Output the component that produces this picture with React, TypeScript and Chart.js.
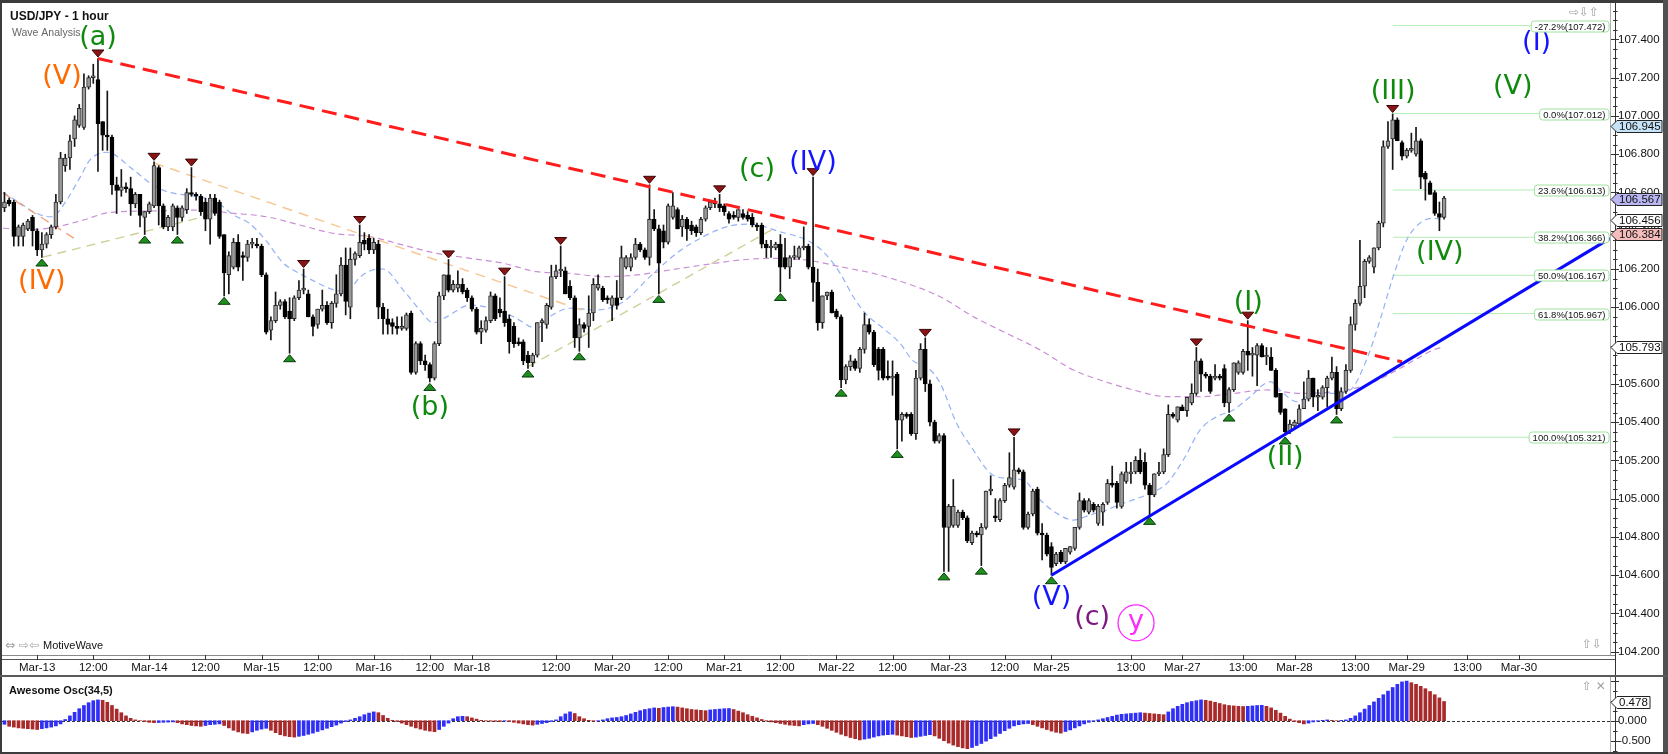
import React, { useEffect, useRef } from 'react';
import { Chart, registerables } from 'chart.js';

Chart.register(...registerables);

const FONT = "'Liberation Sans', Arial, Helvetica, sans-serif";
const SYM = "'DejaVu Sans', sans-serif";

// ---------------- data ----------------
const firstBar = -7; // index of the first candle (Mar-13 00:00 = 0)
// [open, high, low, close]
const ohlc: number[][] = [
  [106.52,106.60,106.50,106.55],[106.56,106.57,106.53,106.54],[106.55,106.56,106.32,106.37],[106.37,106.43,106.32,106.42],[106.37,106.44,106.32,106.43],[106.41,106.46,106.40,106.45],[106.47,106.48,106.32,106.40],
  [106.40,106.41,106.27,106.30],[106.30,106.39,106.26,106.33],[106.33,106.39,106.31,106.38],[106.38,106.43,106.36,106.42],[106.42,106.59,106.41,106.55],[106.55,106.81,106.54,106.78],[106.74,106.80,106.71,106.78],[106.78,106.90,106.72,106.87],[106.88,107.00,106.84,106.98],[106.95,107.06,106.94,107.04],
  [106.94,107.22,106.93,107.15],[107.15,107.21,107.14,107.20],[107.20,107.27,107.17,107.21],[107.19,107.30,106.71,106.96],[106.97,106.97,106.82,106.90],[106.90,107.13,106.82,106.89],[106.89,106.90,106.59,106.64],[106.64,106.68,106.49,106.61],[106.61,106.72,106.58,106.63],[106.63,106.65,106.60,106.62],
  [106.62,106.68,106.48,106.54],[106.54,106.60,106.52,106.59],[106.59,106.59,106.42,106.48],[106.47,106.50,106.38,106.50],[106.50,106.55,106.49,106.54],[106.53,106.76,106.52,106.74],[106.73,106.74,106.43,106.53],[106.53,106.54,106.41,106.42],[106.42,106.48,106.40,106.47],[106.42,106.54,106.40,106.53],
  [106.52,106.53,106.38,106.47],[106.47,106.53,106.45,106.52],[106.51,106.62,106.49,106.60],[106.60,106.73,106.58,106.59],[106.59,106.60,106.56,106.58],[106.58,106.59,106.48,106.50],[106.55,106.57,106.40,106.46],[106.46,106.59,106.33,106.57],[106.57,106.59,106.48,106.49],[106.55,106.56,106.36,106.37],
  [106.38,106.38,106.06,106.18],[106.17,106.29,106.07,106.27],[106.21,106.36,106.20,106.34],[106.34,106.38,106.19,106.21],[106.27,106.29,106.14,106.26],[106.26,106.35,106.24,106.33],[106.33,106.36,106.31,106.34],[106.33,106.36,106.31,106.32],[106.32,106.33,106.16,106.17],[106.17,106.18,105.86,105.87],
  [105.88,105.95,105.83,105.93],[105.93,106.08,105.92,106.01],[106.01,106.04,105.99,106.03],[106.03,106.04,105.94,105.95],[105.98,106.05,105.76,105.94],[105.94,106.06,105.93,106.05],[106.05,106.14,106.04,106.09],[106.09,106.20,106.07,106.10],[106.07,106.09,105.95,105.95],[105.95,105.96,105.85,105.90],
  [105.91,105.99,105.89,105.99],[105.99,106.09,105.98,106.01],[106.01,106.03,105.91,105.92],[105.92,106.03,105.89,106.02],[106.02,106.17,106.00,106.07],[106.07,106.26,106.06,106.22],[106.22,106.31,105.96,106.03],[106.00,106.31,105.94,106.25],[106.25,106.29,106.22,106.28],[106.27,106.43,106.26,106.34],
  [106.35,106.39,106.30,106.33],[106.36,106.38,106.28,106.30],[106.30,106.36,106.28,106.34],[106.33,106.35,105.94,106.00],[106.00,106.02,105.86,105.94],[105.94,105.99,105.86,105.91],[105.92,105.94,105.86,105.90],[105.90,105.95,105.86,105.89],[105.89,105.95,105.88,105.90],[105.89,105.97,105.88,105.96],
  [105.97,105.98,105.65,105.66],[105.66,105.82,105.65,105.81],[105.81,105.82,105.70,105.72],[105.72,105.75,105.67,105.70],[105.70,105.71,105.61,105.63],[105.63,105.82,105.62,105.81],[105.81,106.08,105.80,106.06],[106.06,106.17,106.04,106.17],[106.17,106.25,106.08,106.09],[106.09,106.14,106.08,106.12],
  [106.10,106.19,106.08,106.12],[106.12,106.15,106.07,106.08],[106.09,106.10,106.03,106.05],[106.05,106.06,105.98,105.99],[105.99,106.00,105.86,105.87],[105.87,105.93,105.81,105.89],[105.88,105.95,105.87,105.93],[105.93,106.08,105.92,106.06],[106.06,106.07,105.93,105.94],[105.99,106.05,105.95,105.97],
  [105.98,106.16,105.90,105.92],[105.94,105.96,105.76,105.82],[105.90,105.92,105.79,105.81],[105.82,105.84,105.80,105.81],[105.82,105.83,105.70,105.72],[105.75,105.77,105.68,105.71],[105.71,105.76,105.69,105.75],[105.75,105.92,105.74,105.92],[105.92,105.94,105.82,105.93],[105.91,106.02,105.89,106.01],
  [106.00,106.22,105.99,106.16],[106.16,106.22,106.15,106.19],[106.19,106.32,106.16,106.20],[106.19,106.21,106.07,106.07],[106.11,106.14,106.04,106.05],[106.05,106.06,105.79,105.84],[105.84,105.94,105.77,105.91],[105.91,105.92,105.87,105.89],[105.90,106.06,105.79,105.97],[105.97,106.15,105.93,106.12],
  [106.10,106.17,106.09,106.12],[106.10,106.11,106.03,106.04],[106.05,106.06,106.02,106.04],[106.01,106.06,105.93,106.05],[106.05,106.14,105.99,106.01],[106.05,106.32,106.04,106.26],[106.21,106.27,106.20,106.26],[106.21,106.28,106.19,106.26],[106.26,106.36,106.25,106.33],[106.33,106.34,106.29,106.30],
  [106.30,106.31,106.25,106.26],[106.26,106.64,106.22,106.46],[106.46,106.51,106.40,106.41],[106.41,106.43,106.07,106.23],[106.40,106.43,106.31,106.34],[106.34,106.54,106.33,106.53],[106.47,106.60,106.46,106.53],[106.51,106.52,106.41,106.41],[106.42,106.48,106.37,106.46],[106.46,106.47,106.35,106.41],
  [106.43,106.45,106.38,106.40],[106.42,106.43,106.37,106.39],[106.39,106.47,106.38,106.46],[106.46,106.53,106.45,106.52],[106.52,106.56,106.51,106.55],[106.55,106.57,106.52,106.54],[106.54,106.59,106.50,106.52],[106.53,106.54,106.48,106.50],[106.49,106.50,106.44,106.46],[106.48,106.50,106.46,106.47],
  [106.47,106.51,106.45,106.51],[106.49,106.51,106.46,106.47],[106.48,106.50,106.45,106.46],[106.47,106.49,106.42,106.43],[106.43,106.44,106.40,106.42],[106.43,106.44,106.31,106.33],[106.33,106.35,106.26,106.31],[106.31,106.35,106.26,106.32],[106.31,106.34,106.30,106.33],[106.33,106.38,106.08,106.21],
  [106.26,106.36,106.20,106.21],[106.21,106.27,106.15,106.26],[106.26,106.32,106.25,106.27],[106.26,106.32,106.25,106.31],[106.31,106.42,106.30,106.32],[106.32,106.33,106.20,106.21],[106.21,106.68,106.03,106.13],[106.13,106.20,105.88,105.92],[105.92,106.06,105.89,106.06],[106.06,106.08,106.04,106.08],
  [106.08,106.09,105.97,105.97],[105.98,105.99,105.94,105.95],[105.95,105.96,105.58,105.62],[105.62,105.70,105.60,105.69],[105.69,105.75,105.67,105.72],[105.72,105.73,105.67,105.68],[105.68,105.79,105.66,105.78],[105.78,105.97,105.76,105.91],[105.91,105.94,105.86,105.87],[105.87,105.88,105.69,105.70],
  [105.78,105.79,105.62,105.67],[105.78,105.79,105.62,105.63],[105.64,105.72,105.62,105.63],[105.63,105.72,105.54,105.64],[105.65,105.66,105.26,105.41],[105.41,105.45,105.30,105.44],[105.44,105.45,105.42,105.43],[105.44,105.45,105.33,105.34],[105.34,105.67,105.31,105.63],[105.63,105.81,105.62,105.78],
  [105.78,105.84,105.56,105.60],[105.60,105.62,105.38,105.40],[105.40,105.41,105.29,105.30],[105.30,105.34,105.29,105.33],[105.33,105.34,104.62,104.85],[104.85,104.97,104.62,104.96],[104.86,105.10,104.85,104.96],[104.86,104.94,104.85,104.93],[104.93,104.94,104.89,104.90],[104.90,104.91,104.77,104.78],
  [104.77,104.83,104.76,104.82],[104.82,104.83,104.80,104.81],[104.81,104.87,104.65,104.85],[104.85,105.04,104.84,105.04],[105.04,105.12,105.02,105.05],[104.91,105.00,104.88,104.90],[104.89,105.00,104.88,104.99],[104.99,105.08,104.98,105.07],[105.07,105.24,105.06,105.11],[105.06,105.32,105.05,105.15],
  [105.15,105.16,105.13,105.14],[105.14,105.15,104.84,104.85],[104.85,104.93,104.84,104.92],[104.92,105.05,104.91,105.04],[105.05,105.06,104.81,104.82],[104.82,104.87,104.68,104.81],[104.81,104.82,104.70,104.71],[104.75,104.77,104.60,104.64],[104.66,104.72,104.65,104.71],[104.72,104.73,104.66,104.67],
  [104.67,104.74,104.66,104.74],[104.72,104.75,104.71,104.75],[104.74,104.85,104.73,104.85],[104.85,105.03,104.84,104.99],[104.99,105.00,104.93,104.94],[104.93,105.00,104.92,104.99],[104.97,104.98,104.93,104.94],[104.87,104.97,104.86,104.96],[104.93,104.98,104.86,104.97],[104.98,105.10,104.97,105.08],
  [105.08,105.17,105.06,105.07],[105.08,105.09,104.95,104.98],[104.96,105.14,104.95,105.13],[105.09,105.19,105.08,105.14],[105.13,105.19,105.08,105.14],[105.14,105.22,105.13,105.20],[105.20,105.26,105.13,105.14],[105.19,105.24,105.05,105.07],[105.07,105.08,104.91,105.02],[105.02,105.13,105.01,105.13],
  [105.13,105.19,105.12,105.14],[105.14,105.26,105.13,105.23],[105.23,105.49,105.22,105.44],[105.44,105.45,105.42,105.43],[105.41,105.48,105.40,105.48],[105.48,105.49,105.46,105.46],[105.46,105.53,105.43,105.53],[105.50,105.60,105.49,105.55],[105.55,105.79,105.54,105.72],[105.72,105.73,105.56,105.65],
  [105.65,105.66,105.63,105.64],[105.64,105.65,105.55,105.56],[105.63,105.70,105.62,105.64],[105.64,105.65,105.62,105.63],[105.68,105.70,105.48,105.50],[105.50,105.58,105.45,105.57],[105.57,105.71,105.56,105.71],[105.66,105.72,105.65,105.71],[105.66,105.78,105.65,105.77],[105.77,105.93,105.67,105.75],
  [105.75,105.79,105.64,105.76],[105.75,105.81,105.59,105.80],[105.80,105.81,105.74,105.74],[105.74,105.79,105.70,105.75],[105.74,105.79,105.67,105.67],[105.67,105.68,105.53,105.53],[105.55,105.55,105.44,105.45],[105.47,105.47,105.33,105.35],[105.35,105.41,105.34,105.39],[105.38,105.41,105.37,105.40],
  [105.39,105.49,105.38,105.47],[105.47,105.61,105.47,105.52],[105.52,105.67,105.51,105.63],[105.63,105.63,105.48,105.53],[105.53,105.57,105.46,105.54],[105.53,105.59,105.52,105.58],[105.58,105.64,105.48,105.63],[105.63,105.74,105.62,105.66],[105.66,105.69,105.44,105.47],[105.47,105.58,105.46,105.56],
  [105.56,105.70,105.55,105.67],[105.67,105.95,105.66,105.91],[105.91,106.04,105.88,106.02],[106.02,106.35,106.01,106.11],[106.11,106.25,106.05,106.24],[106.24,106.27,106.23,106.26],[106.21,106.31,106.18,106.31],[106.31,106.45,106.30,106.44],[106.44,106.87,106.42,106.84],[106.84,106.97,106.83,106.87],
  [106.88,107.01,106.72,106.98],[106.98,106.99,106.87,106.87],[106.86,106.87,106.77,106.79],[106.79,106.83,106.78,106.82],[106.82,106.91,106.81,106.83],[106.80,106.94,106.79,106.87],[106.87,106.88,106.62,106.68],[106.70,106.71,106.56,106.67],[106.65,106.66,106.59,106.59],[106.60,106.61,106.48,106.49],[106.49,106.55,106.40,106.47],[106.47,106.58,106.46,106.57],
];

// Awesome Oscillator(34,5), one value per candle
const aoValues: number[] = [
  -0.09,-0.14,-0.16,-0.18,-0.19,-0.20,-0.21,-0.22,
  -0.20,-0.18,-0.16,-0.13,-0.08,
  0.03,0.12,0.21,0.30,0.38,0.45,0.50,0.52,
  0.51,0.46,0.38,0.29,0.20,0.12,0.06,0.02,0.00,
  -0.02,-0.04,-0.05,
  -0.045,-0.04,-0.035,-0.03,
  -0.05,-0.08,-0.10,-0.12,-0.13,-0.14,
  -0.12,-0.10,-0.09,-0.08,
  -0.12,-0.18,-0.24,-0.28,-0.31,-0.32,
  -0.28,-0.24,-0.21,-0.19,
  -0.24,-0.30,-0.35,-0.38,-0.40,-0.41,
  -0.39,-0.37,-0.34,-0.31,-0.27,-0.23,-0.19,-0.15,-0.11,
  -0.06,-0.02,0.02,
  0.06,0.10,0.15,0.19,0.22,
  0.20,0.13,0.06,
  0.01,-0.02,-0.06,-0.10,-0.14,-0.18,-0.21,-0.24,-0.26,-0.275,
  -0.22,-0.14,-0.06,
  0.05,0.10,0.11,
  0.10,0.07,0.04,0.01,
  -0.005,-0.01,-0.015,-0.02,
  -0.01,
  -0.02,-0.04,-0.06,-0.08,-0.10,-0.11,
  -0.09,-0.07,-0.05,-0.02,0.02,
  0.10,0.17,0.22,
  0.18,0.10,0.05,0.01,
  -0.01,-0.005,
  0.02,0.05,0.07,0.08,0.10,0.13,
  0.17,0.21,0.25,0.28,0.30,0.32,
  0.31,
  0.33,0.34,0.35,
  0.34,0.32,0.30,0.28,0.27,0.26,0.25,
  0.27,0.28,0.29,0.30,0.305,
  0.28,0.24,0.20,0.15,0.11,0.07,0.03,
  -0.01,-0.03,-0.05,-0.07,-0.09,-0.11,-0.12,-0.13,
  -0.10,-0.08,-0.07,
  -0.10,-0.14,-0.19,-0.24,-0.29,-0.34,-0.38,-0.42,-0.45,-0.48,
  -0.46,-0.44,-0.41,-0.38,-0.36,-0.35,-0.34,
  -0.36,-0.38,-0.40,-0.42,
  -0.41,-0.39,-0.37,-0.35,
  -0.38,-0.44,-0.50,-0.56,-0.61,-0.65,-0.68,-0.70,
  -0.67,-0.62,-0.57,-0.51,-0.45,-0.39,-0.32,-0.25,-0.19,-0.13,
  -0.10,-0.08,-0.07,
  -0.10,-0.14,-0.18,-0.22,-0.26,-0.29,-0.31,
  -0.27,-0.23,-0.18,-0.13,-0.08,-0.04,-0.01,
  0.02,0.05,0.08,0.11,0.14,0.16,
  0.17,0.18,0.19,0.20,
  0.19,0.18,0.17,0.16,0.15,
  0.22,0.30,0.36,0.41,0.45,0.48,0.50,0.52,
  0.51,0.49,0.46,0.43,0.40,0.38,0.37,0.36,0.355,
  0.36,0.37,0.38,0.385,
  0.36,0.32,0.26,0.19,0.11,0.04,
  -0.02,-0.05,-0.08,
  -0.06,-0.03,-0.01,
  0.01,0.02,0.01,0.00,0.01,0.02,
  0.06,0.12,0.20,0.29,0.38,0.47,0.56,0.65,0.74,0.83,0.91,0.97,
  0.99,
  0.95,0.91,0.86,0.80,0.73,0.65,0.57,0.48,
];
const aoLast = 0.478;

const xTickIdx = [0,12,24,36,48,60,72,84,93,111,123,135,147,159,171,183,195,207,217,234,245,258,269,282,293,306,317];
const xTickLabels = ['Mar-13','12:00','Mar-14','12:00','Mar-15','12:00','Mar-16','12:00','Mar-18','12:00','Mar-20','12:00','Mar-21','12:00','Mar-22','12:00','Mar-23','12:00','Mar-25','13:00','Mar-27','13:00','Mar-28','13:00','Mar-29','13:00','Mar-30'];
const yTickValues = [104.2,104.4,104.6,104.8,105.0,105.2,105.4,105.6,105.8,106.0,106.2,106.4,106.6,106.8,107.0,107.2,107.4];
const aoTickValues = [0, -0.5];

const fibPct = ['-27.2%','0.0%','23.6%','38.2%','50.0%','61.8%','100.0%'];
const fibLevels = [107.472,107.012,106.613,106.366,106.167,105.967,105.321];
const fibStartBar = 290;

const redTrend = [[13,107.30],[292,105.715]];
const blueTrend = [[217,104.60],[336.5,106.36]];
const salmonLine = [[-7.3,106.597],[8.5,106.351]];
const orangeLine = [[25,106.754],[118.3,105.97]];
const oliveLine1 = [[1.2,106.262],[37.4,106.484]];
const oliveLine2 = [[105.1,105.69],[158.3,106.421]];

const blueMA = [[-7.3,106.60],[-3.7,106.545],[-0.9,106.50],[2.7,106.473],[3.8,106.48],[6.3,106.56],[9.2,106.68],[11.3,106.77],[14.9,106.81],[20.5,106.72],[24.1,106.65],[27.7,106.605],[34.8,106.577],[38.4,106.55],[41.9,106.484],[45.5,106.437],[49.1,106.344],[52.6,106.232],[56.2,106.176],[59.8,106.13],[63.3,106.092],[66.2,106.083],[69.1,106.158],[71.8,106.195],[74,106.20],[78.3,106.09],[81.9,105.985],[84.7,105.919],[87.6,105.95],[92.6,106.012],[98.3,105.986],[101.9,105.951],[106.9,105.89],[109.7,105.951],[114,105.995],[119.7,105.986],[125.4,106.029],[131.1,106.16],[136.8,106.282],[142.5,106.369],[148.2,106.425],[152.5,106.435],[158.9,106.395],[164.6,106.351],[168.2,106.29],[171.8,106.177],[174.6,106.055],[177.5,105.96],[181,105.89],[184.6,105.812],[187.4,105.72],[190.3,105.69],[193.2,105.603],[196.7,105.394],[200.3,105.254],[203.9,105.133],[207.4,105.106],[211,105.097],[214.6,104.993],[218.1,104.924],[221.7,104.888],[225.3,104.915],[228.8,104.941],[231.7,104.97],[238.1,105.028],[241.7,105.08],[245.2,105.202],[248.8,105.359],[252.4,105.429],[255.9,105.463],[259.5,105.533],[263.8,105.611],[266.6,105.55],[269.5,105.507],[273,105.55],[277.3,105.55],[280.9,105.568],[284.4,105.725],[287.3,105.933],[290.1,106.16],[293,106.352],[295.8,106.439],[298.7,106.465],[301,106.456]];
const purpleMA = [[-7.3,106.413],[-0.8,106.407],[4.2,106.421],[9.9,106.456],[15.6,106.496],[24.1,106.503],[34.8,106.508],[42,106.491],[49.1,106.473],[56.2,106.43],[63.4,106.386],[71.2,106.369],[78.3,106.325],[85.5,106.282],[92.6,106.256],[99.7,106.23],[106.9,106.186],[114,106.177],[121.1,106.16],[128.3,106.169],[135.4,106.195],[142.5,106.221],[150.4,106.247],[157.5,106.256],[164.6,106.247],[171.8,106.212],[178.9,106.177],[186,106.125],[193.2,106.055],[200.3,105.951],[207.4,105.864],[214.6,105.777],[221.7,105.672],[227.4,105.62],[234.5,105.568],[241.7,105.533],[248.8,105.533],[255.9,105.55],[263,105.568],[270.2,105.55],[277.3,105.559],[284.4,105.594],[291.6,105.681],[298.7,105.777],[301,105.793]];

const swingHighs = [13,25,33,57,69,88,100,112,131,146,166,190,209,248,259,290];
const swingLows = [1,23,30,40,54,84,105,116,133,159,172,184,194,202,217,238,255,267,278];

const priceTagValues = [106.945,106.567,106.456,106.384,105.793];

const GREEN = '#0f8a0f', ORANGE = '#ff6a00', BLUE = '#1414ff', PURPLE = '#7d1a80', MAGENTA = '#ff2aff';
const waveLabels = [
  { t: '(a)', i: 13.0, p: 107.407, c: GREEN },
  { t: '(V)', i: 5.3, p: 107.203, c: ORANGE },
  { t: '(IV)', i: 1.0, p: 106.134, c: ORANGE },
  { t: '(b)', i: 84.0, p: 105.474, c: GREEN },
  { t: '(c)', i: 154.0, p: 106.717, c: GREEN },
  { t: '(IV)', i: 166.0, p: 106.753, c: BLUE },
  { t: '(V)', i: 217.0, p: 104.479, c: BLUE },
  { t: '(c)', i: 225.7, p: 104.375, c: PURPLE },
  { t: 'y', i: 235.1, p: 104.356, c: MAGENTA },
  { t: '(I)', i: 259.1, p: 106.021, c: GREEN },
  { t: '(II)', i: 267.0, p: 105.211, c: GREEN },
  { t: '(III)', i: 290.1, p: 107.126, c: GREEN },
  { t: '(IV)', i: 300.1, p: 106.282, c: GREEN },
  { t: '(V)', i: 315.7, p: 107.152, c: GREEN },
  { t: '(I)', i: 320.8, p: 107.379, c: BLUE },
];
const circledLabel = 'y';

// ---------------- styles / geometry ----------------
const X_MIN = -7.53, X_MAX = 336.5;
const Y_MIN = 104.183, Y_MAX = 107.59;
const AO_MIN = -0.7825, AO_MAX = 1.0675;
const tagFills = ['#c6e2f7', '#b9b6f2', '#ffffff', '#f5bcbc', '#ffffff'];

const bars = ohlc.map((c, k) => ({ i: firstBar + k, o: c[0], h: c[1], l: c[2], c: c[3] }));
const barAt = (i: number) => bars[i - firstBar];
const pts = (a: number[][]) => a.map(([x, y]) => ({ x, y }));

function tri(ctx: any, cx: number, tipY: number, down: boolean, fill: string, stroke: string) {
  ctx.beginPath();
  if (down) { ctx.moveTo(cx - 6, tipY - 7); ctx.lineTo(cx + 6, tipY - 7); ctx.lineTo(cx, tipY); }
  else { ctx.moveTo(cx - 6, tipY + 7); ctx.lineTo(cx + 6, tipY + 7); ctx.lineTo(cx, tipY); }
  ctx.closePath();
  ctx.fillStyle = fill; ctx.fill();
  ctx.strokeStyle = stroke; ctx.lineWidth = 1; ctx.stroke();
}

function tag(ctx: any, py: number, text: string, fill: string, right: number) {
  ctx.beginPath();
  ctx.moveTo(1611, py);
  ctx.lineTo(1617, py - 6);
  ctx.lineTo(right, py - 6);
  ctx.lineTo(right, py + 6);
  ctx.lineTo(1617, py + 6);
  ctx.closePath();
  ctx.fillStyle = fill; ctx.fill();
  ctx.strokeStyle = '#222'; ctx.lineWidth = 1; ctx.stroke();
  ctx.fillStyle = '#111';
  ctx.font = `11.5px ${FONT}`;
  ctx.textAlign = 'left'; ctx.textBaseline = 'middle';
  ctx.fillText(text, 1619, py + 0.5);
}

const mainDecor = {
  id: 'mainDecor',
  afterDatasetsDraw(chart: any) {
    const { ctx, chartArea: a, scales } = chart;
    const x = scales.x, y = scales.y;
    ctx.save();
    ctx.beginPath(); ctx.rect(a.left, a.top, a.right - a.left, a.bottom - a.top); ctx.clip();
    swingHighs.forEach((i) => {
      const b = barAt(i); if (!b) return;
      tri(ctx, x.getPixelForValue(i), y.getPixelForValue(b.h) - 1.5, true, '#8a1414', '#3a0505');
    });
    swingLows.forEach((i) => {
      const b = barAt(i); if (!b) return;
      tri(ctx, x.getPixelForValue(i), y.getPixelForValue(b.l) + 1.5, false, '#1e8e1e', '#0a3a0a');
    });
    ctx.textAlign = 'center'; ctx.textBaseline = 'middle';
    ctx.font = `27px ${SYM}`;
    waveLabels.forEach((w) => {
      const px = x.getPixelForValue(w.i), py = y.getPixelForValue(w.p);
      ctx.fillStyle = w.c;
      ctx.fillText(w.t, px, py);
      if (w.t === circledLabel) {
        ctx.beginPath(); ctx.arc(px, py + 1, 18, 0, Math.PI * 2);
        ctx.strokeStyle = w.c; ctx.lineWidth = 1.3; ctx.stroke();
      }
    });
    // fib labels
    ctx.font = `9.5px ${FONT}`;
    fibLevels.forEach((lv, k) => {
      const t = `${fibPct[k]}(${lv.toFixed(3)})`;
      const w = ctx.measureText(t).width + 7;
      const py = Math.round(y.getPixelForValue(lv)) + 0.5;
      const r = a.right - 1, l = r - w;
      ctx.beginPath();
      ctx.roundRect(l, py - 5.5, w, 11, 3);
      ctx.fillStyle = '#fff'; ctx.fill();
      ctx.strokeStyle = '#a0e2a0'; ctx.lineWidth = 1; ctx.stroke();
      ctx.fillStyle = '#111'; ctx.textAlign = 'center';
      ctx.fillText(t, l + w / 2, py + 0.5);
    });
    ctx.restore();
  },
  afterDraw(chart: any) {
    const { ctx, chartArea: a, scales } = chart;
    const x = scales.x, y = scales.y;
    ctx.save();
    // plot borders
    ctx.strokeStyle = '#b0b0b0'; ctx.lineWidth = 1;
    ctx.beginPath(); ctx.moveTo(a.right + 0.5, a.top); ctx.lineTo(a.right + 0.5, a.bottom); ctx.stroke();
    ctx.strokeStyle = '#8a8a8a';
    ctx.beginPath(); ctx.moveTo(a.left, a.bottom + 0.5); ctx.lineTo(1615, a.bottom + 0.5); ctx.stroke();
    // x axis band
    ctx.strokeStyle = '#555';
    ctx.beginPath(); ctx.moveTo(a.left, a.bottom + 4.5); ctx.lineTo(1615, a.bottom + 4.5); ctx.stroke();
    ctx.strokeStyle = '#333';
    xTickIdx.forEach((i) => {
      const px = Math.round(x.getPixelForValue(i)) + 0.5;
      ctx.beginPath(); ctx.moveTo(px, a.bottom); ctx.lineTo(px, a.bottom + 5); ctx.stroke();
    });
    // y axis line and ticks
    ctx.strokeStyle = '#333';
    ctx.beginPath(); ctx.moveTo(1615.5, a.top); ctx.lineTo(1615.5, 677); ctx.stroke();
    for (let k = 0; ; k++) {
      const v = 104.2 + k * 0.05;
      if (v > Y_MAX) break;
      const py = Math.round(y.getPixelForValue(v)) + 0.5;
      ctx.beginPath();
      if (k % 4 === 0) { ctx.moveTo(1611, py); ctx.lineTo(1619, py); }
      else { ctx.moveTo(1613, py); ctx.lineTo(1617.5, py); }
      ctx.stroke();
    }
    // price tags
    priceTagValues.forEach((v, k) => tag(ctx, Math.round(y.getPixelForValue(v)) + 0.5, v.toFixed(3), tagFills[k], 1662));
    // title texts
    ctx.textAlign = 'left'; ctx.textBaseline = 'alphabetic';
    ctx.fillStyle = '#111'; ctx.font = `bold 12px ${FONT}`;
    ctx.fillText('USD/JPY - 1 hour', 10, 20);
    ctx.fillStyle = '#666'; ctx.font = `10.5px ${FONT}`;
    ctx.fillText('Wave Analysis', 12, 36);
    // icons
    ctx.textBaseline = 'middle';
    ctx.fillStyle = '#a0a0a0'; ctx.font = `12px ${SYM}`;
    ctx.fillText('\u21E8\u21E9\u21E7', 1569, 12.5);
    ctx.fillText('\u21E7\u21E9', 1582, 645);
    ctx.fillText('\u21D4 \u21E8\u21E6', 5, 645.5);
    ctx.fillStyle = '#111'; ctx.font = `11px ${FONT}`;
    ctx.fillText('MotiveWave', 43, 646);
    ctx.restore();
  },
};

const oscDecor = {
  id: 'oscDecor',
  beforeDatasetsDraw(chart: any) {
    const { ctx, chartArea: a, scales } = chart;
    const y0 = Math.round(scales.y.getPixelForValue(0)) + 0.5;
    ctx.save();
    ctx.strokeStyle = '#333'; ctx.lineWidth = 1; ctx.setLineDash([3, 2]);
    ctx.beginPath(); ctx.moveTo(a.left, y0); ctx.lineTo(1612, y0); ctx.stroke();
    ctx.restore();
  },
  afterDraw(chart: any) {
    const { ctx, chartArea: a, scales } = chart;
    const y = scales.y;
    ctx.save();
    ctx.strokeStyle = '#b0b0b0'; ctx.lineWidth = 1;
    ctx.beginPath(); ctx.moveTo(a.right + 0.5, 0); ctx.lineTo(a.right + 0.5, a.bottom); ctx.stroke();
    ctx.strokeStyle = '#333';
    ctx.beginPath(); ctx.moveTo(1615.5, 0); ctx.lineTo(1615.5, a.bottom); ctx.stroke();
    for (let k = -3; k <= 4; k++) {
      const v = k * 0.25;
      const py = Math.round(y.getPixelForValue(v)) + 0.5;
      if (py < a.top || py > a.bottom) continue;
      ctx.beginPath();
      if (k % 2 === 0) { ctx.moveTo(1611, py); ctx.lineTo(1619, py); }
      else { ctx.moveTo(1613, py); ctx.lineTo(1617.5, py); }
      ctx.stroke();
    }
    tag(ctx, Math.round(y.getPixelForValue(aoLast)) + 0.5, aoLast.toFixed(3), '#ffffff', 1650);
    ctx.textAlign = 'left'; ctx.textBaseline = 'alphabetic';
    ctx.fillStyle = '#111'; ctx.font = `bold 11px ${FONT}`;
    ctx.fillText('Awesome Osc(34,5)', 9, 17);
    ctx.textBaseline = 'middle';
    ctx.fillStyle = '#a0a0a0'; ctx.font = `12px ${SYM}`;
    ctx.fillText('\u21E7 \u2715', 1582, 10);
    ctx.restore();
  },
};

export default function App() {
  const mainRef = useRef<HTMLCanvasElement>(null);
  const oscRef = useRef<HTMLCanvasElement>(null);

  useEffect(() => {
    document.body.style.margin = '0';
    Chart.defaults.font.family = FONT;
    Chart.defaults.color = '#111';

    const lineDs = (data: number[][], color: string, width: number, dash: number[], order: number, smooth = false) => ({
      type: 'line' as const,
      data: pts(data),
      borderColor: color,
      borderWidth: width,
      borderDash: dash,
      pointRadius: 0,
      fill: false,
      tension: smooth ? 0.4 : 0,
      cubicInterpolationMode: smooth ? ('monotone' as const) : ('default' as const),
      order,
    });

    const fibDs = fibLevels.map((lv) => lineDs([[fibStartBar, lv], [X_MAX, lv]], '#b4ecb4', 1, [], 30));

    const main = new Chart(mainRef.current as HTMLCanvasElement, {
      type: 'bar',
      data: {
        datasets: [
          ...fibDs,
          lineDs(purpleMA, '#c98fd6', 1.2, [6, 4], 25, true),
          lineDs(blueMA, '#93b2f5', 1.2, [6, 4], 24, true),
          lineDs(salmonLine, '#f3a27e', 1.4, [9, 6], 22),
          lineDs(orangeLine, '#f6c690', 1.4, [10, 7], 22),
          lineDs(oliveLine1, '#cfcf98', 1.4, [9, 6], 22),
          lineDs(oliveLine2, '#cfcf98', 1.4, [9, 6], 22),
          {
            type: 'bar' as const,
            data: bars.map((b) => ({ x: b.i, y: [b.l, b.h] })) as any,
            backgroundColor: '#151515',
            barThickness: 1,
            grouped: false,
            order: 12,
          },
          {
            type: 'bar' as const,
            data: bars.map((b) => ({ x: b.i, y: [b.o, b.c] })) as any,
            backgroundColor: bars.map((b) => (b.c >= b.o ? '#9a9a9a' : '#000000')),
            borderColor: bars.map((b) => (b.c >= b.o ? '#2a2a2a' : '#000000')),
            borderWidth: 1,
            borderSkipped: false,
            barThickness: 4,
            grouped: false,
            order: 11,
          },
          lineDs(redTrend, '#ff1c1c', 3, [15, 8], 2),
          lineDs(blueTrend, '#0a0aff', 3, [], 1),
        ] as any,
      },
      options: {
        responsive: false,
        animation: false,
        devicePixelRatio: 1,
        events: [],
        layout: { padding: { left: 2, top: 3, right: 0, bottom: 0 } },
        plugins: { legend: { display: false }, tooltip: { enabled: false }, title: { display: false } },
        scales: {
          x: {
            type: 'linear',
            min: X_MIN,
            max: X_MAX,
            offset: false,
            grid: { display: false, drawTicks: false },
            border: { display: false },
            afterBuildTicks: (s: any) => { s.ticks = xTickIdx.map((v) => ({ value: v })); },
            afterFit: (s: any) => { s.height = 22; s.paddingLeft = 0; s.paddingRight = 0; },
            ticks: {
              autoSkip: false,
              maxRotation: 0,
              padding: 6,
              color: '#111',
              font: { family: FONT, size: 11.5 },
              callback: (_v: any, idx: number) => xTickLabels[idx] ?? '',
            },
          },
          y: {
            type: 'linear',
            position: 'right',
            min: Y_MIN,
            max: Y_MAX,
            grid: { display: false, drawTicks: false },
            border: { display: false },
            afterBuildTicks: (s: any) => { s.ticks = yTickValues.map((v) => ({ value: v })); },
            afterFit: (s: any) => { s.width = 58; s.paddingTop = 0; s.paddingBottom = 0; },
            ticks: {
              padding: 8,
              color: '#111',
              font: { family: FONT, size: 11.5 },
              callback: (v: any) => Number(v).toFixed(3),
            },
          },
        },
      } as any,
      plugins: [mainDecor],
    });

    const aoColors = aoValues.map((v, k) => (k === 0 || v >= aoValues[k - 1] ? '#2f2ff5' : '#a82a2a'));
    const osc = new Chart(oscRef.current as HTMLCanvasElement, {
      type: 'bar',
      data: {
        datasets: [
          {
            data: aoValues.map((v, k) => ({ x: firstBar + k, y: v })) as any,
            backgroundColor: aoColors,
            barThickness: 3,
            grouped: false,
          },
        ] as any,
      },
      options: {
        responsive: false,
        animation: false,
        devicePixelRatio: 1,
        events: [],
        layout: { padding: { left: 2, top: 1, right: 0, bottom: 2 } },
        plugins: { legend: { display: false }, tooltip: { enabled: false } },
        scales: {
          x: { type: 'linear', min: X_MIN, max: X_MAX, offset: false, display: false },
          y: {
            type: 'linear',
            position: 'right',
            min: AO_MIN,
            max: AO_MAX,
            grid: { display: false, drawTicks: false },
            border: { display: false },
            afterBuildTicks: (s: any) => { s.ticks = aoTickValues.map((v) => ({ value: v })); },
            afterFit: (s: any) => { s.width = 58; s.paddingTop = 0; s.paddingBottom = 0; },
            ticks: {
              padding: 8,
              color: '#111',
              font: { family: FONT, size: 11.5 },
              callback: (v: any) => Number(v).toFixed(3),
            },
          },
        },
      } as any,
      plugins: [oscDecor],
    });

    return () => { main.destroy(); osc.destroy(); };
  }, []);

  const band = (s: React.CSSProperties) => <div style={{ position: 'absolute', background: '#3c3c3c', ...s }} />;

  return (
    <div style={{ position: 'relative', width: 1668, height: 754, background: '#fff', overflow: 'hidden' }}>
      <canvas ref={mainRef} width={1668} height={677} style={{ position: 'absolute', left: 0, top: 0 }} />
      <canvas ref={oscRef} width={1668} height={77} style={{ position: 'absolute', left: 0, top: 677 }} />
      {band({ left: 0, top: 0, width: 1668, height: 3 })}
      {band({ left: 0, top: 0, width: 2, height: 754 })}
      {band({ left: 1663, top: 0, width: 5, height: 754, background: '#505050' })}
      {band({ left: 0, top: 752, width: 1668, height: 2 })}
      {band({ left: 0, top: 675, width: 1668, height: 2, background: '#5a5a5a' })}
    </div>
  );
}
